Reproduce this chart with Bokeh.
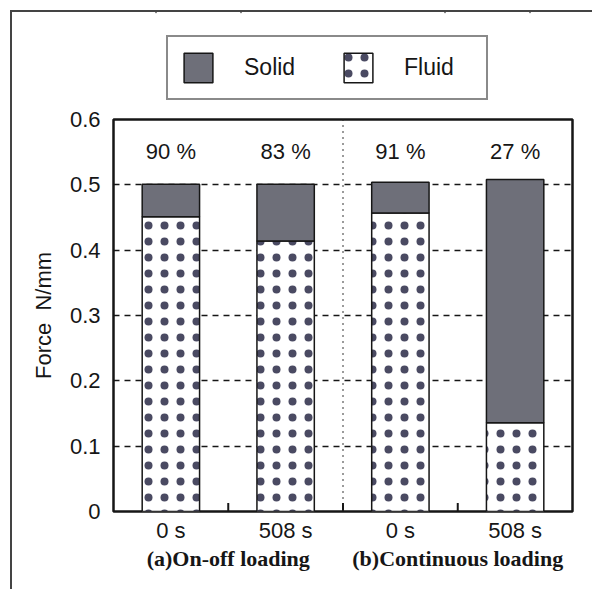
from bokeh.plotting import figure
from bokeh.layouts import column
from bokeh.models import (FactorRange, ColumnDataSource, Legend, LegendItem, Span,
                          LabelSet, FixedTicker, Range1d)
from bokeh.core.properties import value
from bokeh.embed import file_html
from bokeh.resources import INLINE

# ---- data ----
groups = ["(a)On-off loading", "(b)Continuous loading"]
times = ["0 s", "508 s"]
fluid = [0.451, 0.414, 0.457, 0.136]
total = [0.501, 0.501, 0.504, 0.508]
percent_labels = ["90 %", "83 %", "91 %", "27 %"]
y_ticks = [0, 0.1, 0.2, 0.3, 0.4, 0.5, 0.6]
y_tick_labels = ["0", "0.1", "0.2", "0.3", "0.4", "0.5", "0.6"]
series_names = ["Solid", "Fluid"]

factors = [(g, t) for g in groups for t in times]

# ---- styles ----
solid_color = "#6e6f79"
dot_color = "#4a4a62"
ink = "#161616"
sans = "Liberation Sans"
serif = "Liberation Serif"
label_y = 0.551
fs = "22px"
solid_style = dict(fill_color=solid_color, line_color=ink, line_width=1.5)
fluid_style = dict(fill_color="white", line_color=ink, line_width=1.5,
                   hatch_pattern="dot", hatch_scale=16, hatch_color=dot_color,
                   hatch_weight=3)

src = ColumnDataSource(dict(x=factors, fluid=fluid, total=total, pct=percent_labels))

# ---- main chart ----
p = figure(
    x_range=FactorRange(*factors, factor_padding=0, group_padding=0, range_padding=0),
    y_range=(0, 0.6),
    width=580, height=484,
    output_backend="svg", toolbar_location=None,
    min_border_left=101, min_border_right=20, min_border_top=14, min_border_bottom=78,
    background_fill_color="white", border_fill_color="white",
)

p.outline_line_color = ink
p.outline_line_width = 2.5
p.outline_line_alpha = 1

# y axis
p.yaxis.ticker = FixedTicker(ticks=y_ticks)
p.yaxis.major_label_overrides = dict(zip(y_ticks, y_tick_labels))
p.yaxis.major_tick_line_color = None
p.yaxis.minor_tick_line_color = None
p.yaxis.axis_line_color = None
p.yaxis.major_label_standoff = 7
p.yaxis.major_label_text_font = sans
p.yaxis.major_label_text_font_size = fs
p.yaxis.major_label_text_color = ink
p.yaxis.axis_label = "Force\u00a0\u00a0N/mm"
p.yaxis.axis_label_standoff = 11
p.yaxis.axis_label_text_font = sans
p.yaxis.axis_label_text_font_style = "normal"
p.yaxis.axis_label_text_font_size = fs
p.yaxis.axis_label_text_color = ink

# x axis
p.xaxis.major_tick_line_color = None
p.xaxis.minor_tick_line_color = None
p.xaxis.axis_line_color = None
p.xaxis.separator_line_color = None
p.xaxis.major_label_standoff = 0
p.xaxis.major_label_text_font = sans
p.xaxis.major_label_text_font_size = fs
p.xaxis.major_label_text_color = ink
p.xaxis.group_text_font = serif
p.xaxis.group_text_font_style = "bold"
p.xaxis.group_text_font_size = fs
p.xaxis.group_text_color = ink

# grid
p.xgrid.grid_line_color = None
p.ygrid.ticker = FixedTicker(ticks=y_ticks[1:-1])
p.ygrid.grid_line_color = ink
p.ygrid.grid_line_dash = "6 5"
p.ygrid.grid_line_width = 1.3

p.vbar(x="x", bottom=0, top="fluid", width=0.5, source=src, **fluid_style)
p.vbar(x="x", bottom="fluid", top="total", width=0.5, source=src, **solid_style)

# inner tick marks at category boundaries
bounds = list(range(1, len(factors)))
p.segment(x0=bounds, x1=bounds, y0=0, y1=0.013, line_color=ink, line_width=2)

# dotted separator between the two loading groups
p.add_layout(Span(location=len(factors) / 2, dimension="height", line_color="#222",
                  line_width=1.8, line_dash="1 5"))

labels = LabelSet(x="x", y=label_y, text="pct", source=src, text_align="center",
                  text_baseline="middle", text_font=value(sans), text_font_size=value(fs),
                  text_color=ink)
p.add_layout(labels)

# ---- legend strip (same bars, far out of view and hair-thin; only the legend shows) ----
lg = figure(width=580, height=95,
            x_range=FactorRange(*factors), y_range=Range1d(-30, -29),
            x_axis_type=None, y_axis_type=None, output_backend="svg",
            toolbar_location=None, min_border=0,
            background_fill_color="white", border_fill_color="white")
lg.outline_line_color = None
lg.grid.visible = False
lg.styles = {"border-top": "2px solid #444"}
r_fluid = lg.vbar(x="x", bottom=0, top="fluid", width=0.0001, source=src, **fluid_style)
r_solid = lg.vbar(x="x", bottom="fluid", top="total", width=0.0001, source=src, **solid_style)

legend = Legend(
    items=[LegendItem(label=series_names[0], renderers=[r_solid]),
           LegendItem(label=series_names[1], renderers=[r_fluid])],
    location=(53, 7), orientation="horizontal",
    glyph_width=36, glyph_height=37, label_standoff=28, spacing=26, label_width=70,
    padding=12, margin=0, border_line_color=ink, border_line_width=2.5,
    label_text_font=sans, label_text_font_size="23px", label_text_color=ink,
    background_fill_color="white", background_fill_alpha=1,
)
lg.add_layout(legend, "center")

layout = column(lg, p, spacing=0)
layout.styles = {"margin-left": "10px", "margin-top": "10px",
                 "border-left": "2px solid #444"}

open("out.html", "w").write(file_html(layout, INLINE))
